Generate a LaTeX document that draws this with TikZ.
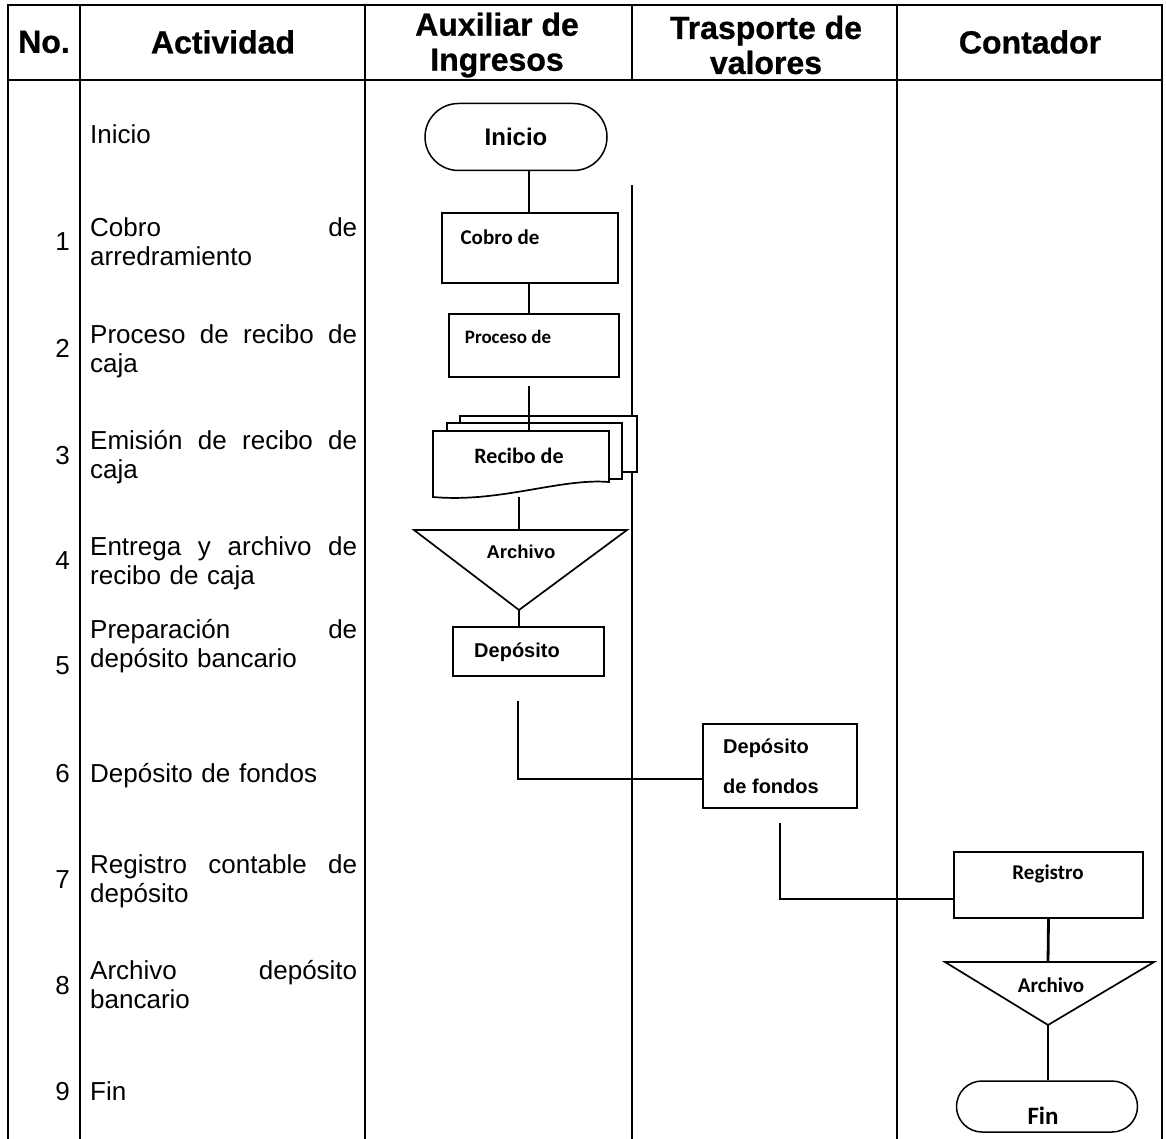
\documentclass[tikz,border=0pt]{standalone}
\usepackage{fontspec}
\setmainfont{Liberation Sans}
\newfontfamily\calfont{Carlito}
\newfontfamily\headfont{Liberation Sans Bold}[FakeBold=0.8]
\usetikzlibrary{shapes.misc}

\begin{document}
\begin{tikzpicture}[x=1pt,y=-1pt,
  rule/.style={line width=1.6pt},
  link/.style={line width=2.8pt},
  box/.style={draw, line width=2.2pt, fill=white, inner sep=0pt},
  page/.style={draw, line width=1.7pt, fill=white},
  merge/.style={draw, line width=1.7pt, fill=white},
  terminal/.style={draw, rounded rectangle, line width=1.5pt, inner sep=0pt},
  head/.style={font=\headfont\fontsize{32}{35}\selectfont, align=center, inner sep=0pt},
  act/.style={font=\fontsize{26}{29}\selectfont, text width=267pt, align=left, anchor=base west, inner sep=0pt},
  num/.style={font=\fontsize{26}{29}\selectfont, anchor=base east, inner sep=0pt},
  arlbl/.style={font=\bfseries\fontsize{#1}{#1}\selectfont, inner sep=0pt},
  arlbl/.default=20,
  calbl/.style={font=\calfont\bfseries\fontsize{#1}{#1}\selectfont, inner sep=0pt},
  calbl/.default=20,
]
\useasboundingbox (0,0) rectangle (1166,1139);
\fill[white] (0,0) rectangle (1166,1139);

% ---- table grid ----
\draw[rule] (8,1139) -- (8,5) -- (1162,5) -- (1162,1139);
\draw[rule] (8,80) -- (1162,80);
\draw[rule] (80,5) -- (80,1139);
\draw[rule] (365,5) -- (365,1139);
\draw[rule] (632,5) -- (632,80);
\draw[rule] (632,185) -- (632,1139);
\draw[rule] (897,5) -- (897,1139);

% ---- header ----
\node[head] (hno)   at (44,42)  {No.};
\node[head] (hact)  at (223,42) {Actividad};
\node[head] (haux)  at (497,45) {Auxiliar de\\Ingresos};
\node[head] (htra)  at (766,45) {Trasporte de\\valores};
\node[head] (hcon)  at (1030,42) {Contador};

% ---- activity column ----
\node[act] (t0) at (90,144) {Inicio};
\node[act] (t1) at (90,237) {Cobro\hfill de\\arredramiento};
\node[act] (t2) at (90,343) {Proceso\hfill de\hfill recibo\hfill de\\caja};
\node[act] (t3) at (90,449) {Emisión\hfill de\hfill recibo\hfill de\\caja};
\node[act] (t4) at (90,555) {Entrega\hfill y\hfill archivo\hfill de\\recibo de caja};
\node[act] (t5) at (90,638) {Preparación\hfill de\\depósito bancario};
\node[act] (t6) at (90,782) {Depósito de fondos};
\node[act] (t7) at (90,873) {Registro\hfill contable\hfill de\\depósito};
\node[act] (t8) at (90,979) {Archivo\hfill depósito\\bancario};
\node[act] (t9) at (90,1100) {Fin};

\node[num] (n1) at (70,251) {1};
\node[num] (n2) at (70,357) {2};
\node[num] (n3) at (70,464) {3};
\node[num] (n4) at (70,569) {4};
\node[num] (n5) at (70,674) {5};
\node[num] (n6) at (70,782) {6};
\node[num] (n7) at (70,888) {7};
\node[num] (n8) at (70,994) {8};
\node[num] (n9) at (70,1100) {9};

% ---- Auxiliar de Ingresos lane ----
\node[terminal, minimum width=182pt, minimum height=67pt, arlbl=24] (inicio) at (516,137) {Inicio};
\node[box, minimum width=176pt, minimum height=70pt] (cobro) at (530,248) {};
\node[box, minimum width=170pt, minimum height=63pt] (proceso) at (534,345.5) {};

% stacked receipts
\draw[page] (460,416) rectangle (637,472);
\draw[page] (447,423) rectangle (622,479);
\draw[page] (433,431) -- (609,431) -- (609,482)
  .. controls (560,478) and (500,503) .. (433,497) -- cycle;
\node[inner sep=0pt, minimum width=176pt, minimum height=66pt] (recibo) at (521,464) {};

% archive (merge) symbol
\coordinate (a1l) at (414,530);
\coordinate (a1r) at (627,530);
\coordinate (a1top) at (519,530);
\coordinate (a1apex) at (519,610);
\draw[merge] (a1l) -- (a1r) -- (a1apex) -- cycle;

\node[box, minimum width=151pt, minimum height=49pt] (dep) at (528.5,651.5) {};

% ---- Trasporte de valores lane ----
\node[box, minimum width=154pt, minimum height=84pt] (fondos) at (780,766) {};

% ---- Contador lane ----
\node[box, minimum width=189pt, minimum height=66pt] (registro) at (1048.5,885) {};
\coordinate (a2l) at (945,962);
\coordinate (a2r) at (1154,962);
\coordinate (a2top) at (1048,962);
\coordinate (a2apex) at (1048,1025);
\draw[merge] (a2l) -- (a2r) -- (a2apex) -- cycle;
\node[terminal, minimum width=181pt, minimum height=51pt] (fin) at (1047,1106.5) {};

% ---- connectors ----
\coordinate (spineA) at (529,0);
\coordinate (spineB) at (519,0);
\coordinate (spineC) at (518,0);
\draw[link] (inicio.south -| spineA) -- (cobro.north -| spineA);
\draw[link] (cobro.south -| spineA) -- (proceso.north -| spineA);
\draw[link, shorten <=8pt] (proceso.south -| spineA) -- (recibo.north -| spineA);
\draw[link] (recibo.south -| spineB) -- (a1top);
\draw[link] (a1apex) -- (dep.north -| spineB);
\draw[link, shorten <=24pt] (dep.south -| spineC) |- ([yshift=-13pt]fondos.west);
\draw[link, shorten <=14pt] (fondos.south) |- ([yshift=-14pt]registro.west);
\draw[link] (registro.south) -- (a2top);
\draw[link] (a2apex) -- (a2apex |- fin.north);

% ---- shape labels ----
\node[calbl=21] (cobrotxt) at (500,237) {Cobro de};
\node[calbl=19] (procesotxt) at (508,337) {Proceso de};
\node[calbl=22] (recibotxt) at (519,456) {Recibo de};
\node[arlbl=18.5] (arch1txt) at (521,552) {Archivo};
\node[arlbl=20] (deptxt) at (517,652) {Depósito};
\node[arlbl=20, anchor=west] (fondtxt1) at (723,748) {Depósito};
\node[arlbl=20, anchor=west] (fondtxt2) at (723,786) {de fondos};
\node[calbl=21] (regtxt) at (1048,874) {Registro};
\node[calbl=21] (arch2txt) at (1051,985) {Archivo};
\node[calbl=25] (fintxt) at (1043,1116) {Fin};
\end{tikzpicture}
\end{document}
